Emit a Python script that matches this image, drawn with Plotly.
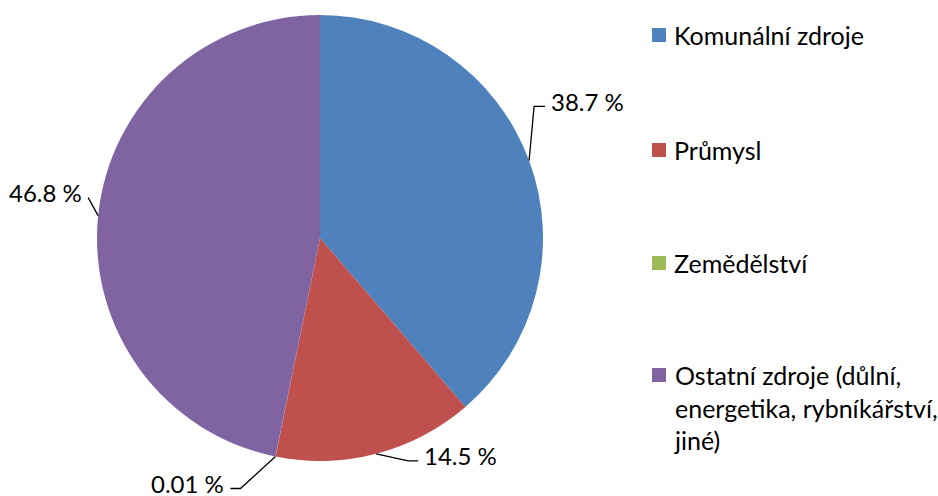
# -*- coding: utf-8 -*-

import math
import plotly.graph_objects as go

# data
labels = ["Komunální zdroje", "Průmysl", "Zemědělství",
          "Ostatní zdroje (důlní, energetika, rybníkářství, jiné)"]
legend_text = ["Komunální zdroje", "Průmysl", "Zemědělství",
               "Ostatní zdroje (důlní,<br>energetika, rybníkářství,<br>jiné)"]
shares = [38.7, 14.5, 0.01, 46.8]
share_text = ["38.7 %", "14.5 %", "0.01 %", "46.8 %"]
colors = ["#4F81BD", "#C0504D", "#9BBB59", "#8064A2"]

W, H = 938, 496
FONT = "Lato"

# pie placement in pixels
cx, cy, r = 320, 238, 223

def px(x):
    return x / W

def py(y):
    return 1 - y / H

fig = go.Figure(go.Pie(
    labels=labels, values=shares, sort=False, direction="clockwise",
    rotation=0, textinfo="none", hoverinfo="label+percent",
    marker=dict(colors=colors, line=dict(width=0)),
    domain=dict(x=[px(cx - r), px(cx + r)], y=[py(cy + r), py(cy - r)]),
    showlegend=False,
))

# leader lines: (elbow dx, elbow dy, horizontal run) relative to edge point
leaders = [(5, -54, 11), (32, 7, 10), (-35, 32, -10), (-10, -18, 0)]

shapes = []
annotations = []
total = sum(shares)
cum = 0
for i, v in enumerate(shares):
    mid = (cum + v / 2) / total * 2 * math.pi
    cum += v
    ex = cx + r * math.sin(mid)
    ey = cy - r * math.cos(mid)
    dx, dy, run = leaders[i]
    bx, by = ex + dx, ey + dy
    tx = bx + run
    path = "M %f %f L %f %f L %f %f" % (px(ex), py(ey), px(bx), py(by), px(tx), py(by))
    shapes.append(dict(type="path", xref="paper", yref="paper", path=path,
                       line=dict(color="black", width=1.3)))
    right = (tx > ex) if run != 0 else (dx > 0)
    annotations.append(dict(
        x=px(tx + (4 if right else -4)), y=py(by - 5), xref="paper", yref="paper",
        text=share_text[i], showarrow=False,
        xanchor="left" if right else "right", yanchor="middle",
        font=dict(family=FONT, size=24, color="black")))

# legend drawn by hand so the entries can be spread out
legend_y = [35, 150, 263, 375]
for i, t in enumerate(legend_text):
    y = legend_y[i]
    shapes.append(dict(type="rect", xref="paper", yref="paper",
                       x0=px(652), x1=px(666), y0=py(y + 7), y1=py(y - 7),
                       fillcolor=colors[i], line=dict(width=0)))
    annotations.append(dict(
        x=px(672), y=py(y - 17), xref="paper", yref="paper",
        text=t, showarrow=False, align="left",
        xanchor="left", yanchor="top",
        font=dict(family=FONT, size=25, color="black")))

fig.update_layout(
    width=W, height=H,
    margin=dict(l=0, r=0, t=0, b=0),
    paper_bgcolor="white", plot_bgcolor="white",
    shapes=shapes, annotations=annotations,
    font=dict(family=FONT, size=24, color="black"),
)

fig.write_html("out.html", config={"displayModeBar": False},
               post_script="document.body.style.margin='0';")
